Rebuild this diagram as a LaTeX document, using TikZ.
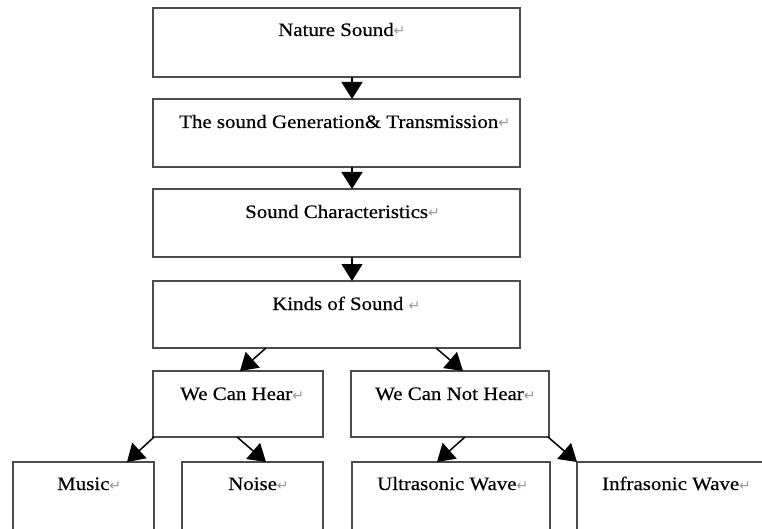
\documentclass[tikz,border=0pt]{standalone}
\usepackage{fontspec}
\setmainfont{Liberation Serif}[FakeStretch=1.1,FakeBold=0.4]
\newfontfamily\symfont{DejaVu Sans}
\usetikzlibrary{arrows.meta}
\newcommand{\parmark}{{\symfont\fontsize{14}{15}\selectfont\textcolor{black!40}{↵}}}
\tikzset{
  box/.style={draw=black!70, line width=1.8pt, rectangle, anchor=north west, inner sep=0pt, outer sep=0pt},
  lbl/.style={anchor=base west, inner sep=0pt, font=\fontsize{19}{22}\selectfont},
  arr/.style={line width=1.5pt, -{Triangle[length=17pt,width=21pt]}},
}
\begin{document}
\begin{tikzpicture}[x=1pt,y=-1pt]
\useasboundingbox (0,0) rectangle (762,529);
\clip (0,0) rectangle (762,529);
\fill[white] (0,0) rectangle (762,529);
% boxes
\node[box, minimum width=367pt, minimum height=69pt] (n1) at (153,8) {};
\node[box, minimum width=367pt, minimum height=68pt] (n2) at (153,99) {};
\node[box, minimum width=367pt, minimum height=68pt] (n3) at (153,189) {};
\node[box, minimum width=367pt, minimum height=67pt] (n4) at (153,281) {};
\node[box, minimum width=170pt, minimum height=66pt] (n5) at (153,371) {};
\node[box, minimum width=198pt, minimum height=66pt] (n6) at (351,371) {};
\node[box, minimum width=141pt, minimum height=100pt] (n7) at (13,462) {};
\node[box, minimum width=141pt, minimum height=100pt] (n8) at (182,462) {};
\node[box, minimum width=198pt, minimum height=100pt] (n9) at (352,462) {};
\node[box, minimum width=223pt, minimum height=100pt] (n10) at (577,462) {};
% labels
\node[lbl] (t1) at (278,36) {Nature Sound\parmark};
\node[lbl] (t2) at (179,128) {The sound Generation\& Transmission\parmark};
\node[lbl] (t3) at (245,218) {Sound Characteristics\parmark};
\node[lbl] (t4) at (272,310) {Kinds of Sound \parmark};
\node[lbl] (t5) at (180,400) {We Can Hear\parmark};
\node[lbl] (t6) at (375,400) {We Can Not Hear\parmark};
\node[lbl] (t7) at (57,490) {Music\parmark};
\node[lbl] (t8) at (228,490) {Noise\parmark};
\node[lbl] (t9) at (377,490) {Ultrasonic Wave\parmark};
\node[lbl] (t10) at (602,490) {Infrasonic Wave\parmark};
% connectors
\draw[arr] ([xshift=15.5pt]n1.south) -- ([xshift=15.5pt]n2.north);
\draw[arr] ([xshift=15.5pt]n2.south) -- ([xshift=15.5pt]n3.north);
\draw[arr] ([xshift=15.5pt]n3.south) -- ([xshift=15.5pt]n4.north);
\draw[arr] ([xshift=-70.5pt]n4.south) -- ([xshift=2pt]n5.north);
\draw[arr] ([xshift=99.5pt]n4.south) -- ([xshift=13pt]n6.north);
\draw[arr] ([xshift=1pt]n5.south west) -- ([xshift=43.5pt]n7.north);
\draw[arr] ([xshift=-1pt]n5.south) -- ([xshift=13.5pt]n8.north);
\draw[arr] ([xshift=15pt]n6.south) -- ([xshift=-14pt]n9.north);
\draw[arr] ([xshift=-1pt]n6.south east) -- (n10.north west);
\end{tikzpicture}
\end{document}
